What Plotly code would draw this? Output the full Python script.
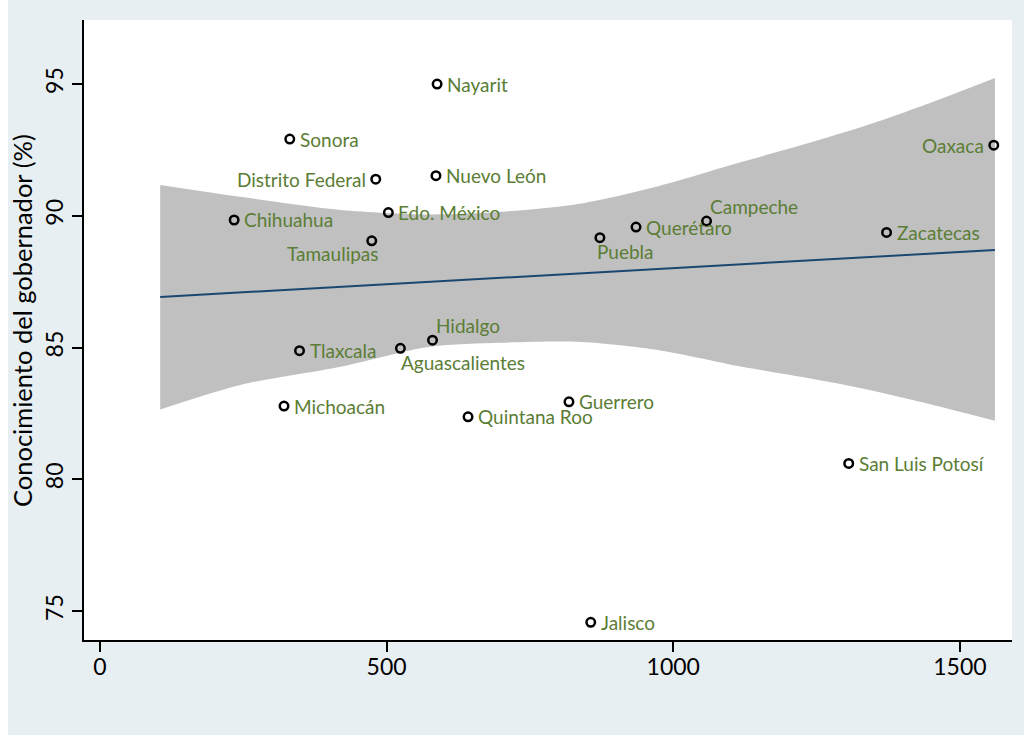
import plotly.graph_objects as go

# Conocimiento del gobernador vs. eje X, por entidad
estados = ["Nayarit", "Sonora", "Distrito Federal", "Nuevo León", "Chihuahua",
           "Edo. México", "Tamaulipas", "Puebla", "Querétaro", "Campeche",
           "Zacatecas", "Oaxaca", "Hidalgo", "Aguascalientes", "Tlaxcala",
           "Michoacán", "Quintana Roo", "Guerrero", "San Luis Potosí", "Jalisco"]
x_vals = [588, 331, 481, 586, 234, 503, 474, 872, 935, 1058,
          1372, 1559, 580, 524, 348, 321, 642, 818, 1306, 856]
y_vals = [95.0, 92.91, 91.39, 91.52, 89.84, 90.12, 89.05, 89.17, 89.57, 89.80,
          89.37, 92.68, 85.28, 84.97, 84.88, 82.78, 82.37, 82.94, 80.60, 74.57]
# clock position of each marker label
label_pos = [3, 3, 9, 3, 3, 3, 7, 6, 3, 1,
             3, 9, 1, 5, 3, 3, 3, 3, 3, 3]

# linear fit and its confidence band
fit_x = [105, 1561]
fit_y = [86.92, 88.70]
ci_x = [105, 245, 420, 575, 700, 840, 975, 1120, 1230, 1340, 1450, 1561]
ci_upper = [91.17, 90.72, 90.22, 90.05, 90.15, 90.47, 91.13, 92.05, 92.72,
            93.45, 94.30, 95.23]
ci_lower = [82.65, 83.58, 84.27, 85.03, 85.18, 85.21, 84.90, 84.27, 83.86,
            83.40, 82.84, 82.22]

x_ticks = [0, 500, 1000, 1500]
y_ticks = [75, 80, 85, 90, 95]
y_title = "Conocimiento del gobernador (%)"

BG = "#e8eff2"
LABEL_COLOR = "#5b7d35"
FONT = "Lato"

fig = go.Figure()
fig.add_trace(go.Scatter(x=ci_x, y=ci_lower, mode="lines",
                         line=dict(width=0, shape="spline", smoothing=0.8,
                                   color="#c0c0c0"),
                         hoverinfo="skip", showlegend=False))
fig.add_trace(go.Scatter(x=ci_x, y=ci_upper, mode="lines", fill="tonexty",
                         fillcolor="#c0c0c0",
                         line=dict(width=0, shape="spline", smoothing=0.8,
                                   color="#c0c0c0"),
                         hoverinfo="skip", showlegend=False))
fig.add_trace(go.Scatter(x=fit_x, y=fit_y, mode="lines",
                         line=dict(color="#1a476f", width=2),
                         showlegend=False))
fig.add_trace(go.Scatter(x=x_vals, y=y_vals, mode="markers",
                         marker=dict(symbol="circle-open", size=8.5, color="black",
                                     line=dict(width=2.5, color="black")),
                         text=estados, showlegend=False))

# (xanchor, xshift, yshift) per clock position
placement = {
    3: ("left", 8, 0),
    9: ("right", -8, 0),
    7: ("right", 9, -13),
    6: ("left", -5, -14),
    5: ("left", -1, -14),
    1: ("left", 1, 15),
}
for name, xv, yv, pos in zip(estados, x_vals, y_vals, label_pos):
    xa, dx, dy = placement[pos]
    fig.add_annotation(x=xv, y=yv, text=name, showarrow=False,
                       xanchor=xa, yanchor="middle", xshift=dx, yshift=dy,
                       font=dict(family=FONT, size=19, color=LABEL_COLOR))

L, R, T, B = 84, 12, 20, 95
W, H = 1024, 735
pw, ph = W - L - R, H - T - B

# vertical y-axis title
fig.add_annotation(x=(22 - L) / pw, y=(H - B - 321) / ph, xref="paper", yref="paper",
                   text=y_title, textangle=-90, showarrow=False,
                   xanchor="center", yanchor="middle",
                   font=dict(family=FONT, size=25.5, color="black"))

# white strip along the left edge of the page
fig.add_shape(type="rect", xref="paper", yref="paper", layer="above",
              x0=(0 - L) / pw, x1=(8 - L) / pw,
              y0=-(H - T - ph + 5) / ph, y1=(ph + T + 5) / ph,
              fillcolor="white", line=dict(width=0))

fig.update_layout(
    width=W, height=H,
    margin=dict(l=L, r=R, t=T, b=B),
    paper_bgcolor=BG, plot_bgcolor="white",
    font=dict(family=FONT, color="black"),
    xaxis=dict(range=[-27.9, 1590.8], tickvals=x_ticks, ticks="outside",
               ticklen=10, tickwidth=1.5, tickcolor="black",
               ticklabelstandoff=-5,
               showline=True, linecolor="black", linewidth=2,
               showgrid=False, zeroline=False,
               tickfont=dict(family=FONT, size=23, color="black")),
    yaxis=dict(range=[73.9, 97.43], tickvals=y_ticks, ticks="outside",
               ticklen=10, tickwidth=1.5, tickcolor="black", tickangle=-90,
               showline=True, linecolor="black", linewidth=2,
               showgrid=False, zeroline=False,
               tickfont=dict(family=FONT, size=23, color="black")),
)

fig.write_html("out.html")
